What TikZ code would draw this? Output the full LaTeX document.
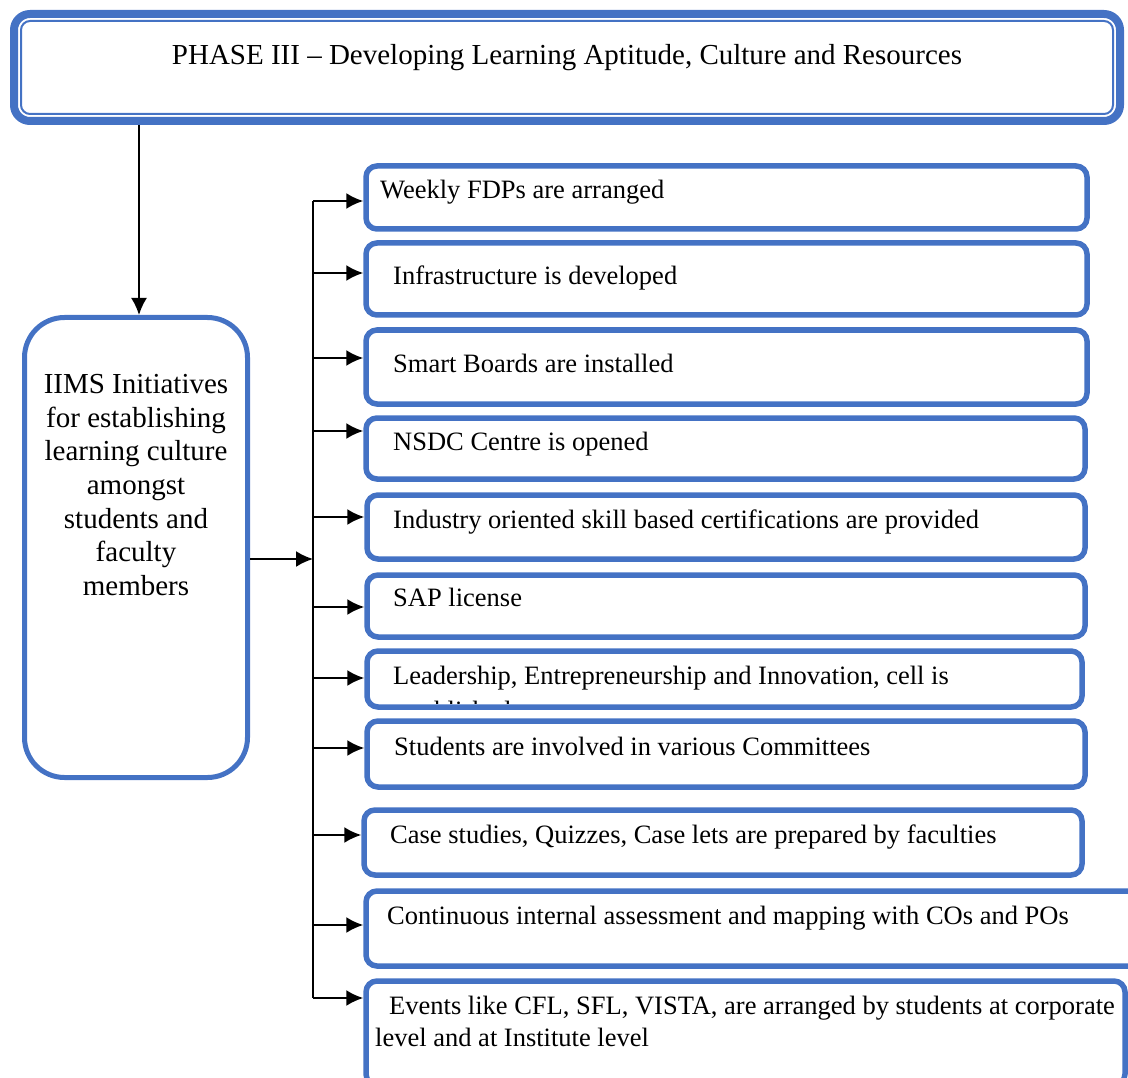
\documentclass[tikz,border=0pt]{standalone}
\usepackage{fontspec}
\setmainfont{Liberation Serif}
\usetikzlibrary{positioning,arrows.meta}
\definecolor{boxblue}{HTML}{4472C4}
\newcommand{\headfont}{\fontsize{29}{33.7}\selectfont}
\newcommand{\itemfont}{\fontsize{26.5}{32}\selectfont}

\begin{document}
\begin{tikzpicture}
                    [x=1pt, y=-1pt,
                    phasebox/.style={rectangle,
                        draw=boxblue, line width=8pt,
                        rounded corners=16pt},
                    initbox/.style={rectangle,
                        draw=boxblue, line width=5pt,
                        rounded corners=40pt},
                    itembox/.style={rectangle,
                        draw=boxblue, line width=5.5pt,
                        rounded corners=11pt, inner sep=0pt},
                    itemtext/.style={anchor=base west,
                        inner sep=0pt, font=\itemfont},
                    conn/.style={line width=2pt,
                        -{Latex[length=17pt,width=16pt]}}]

                    \useasboundingbox (0,0) rectangle (1128,1078);
                    \clip (0,0) rectangle (1128,1078);

                    % phase heading
                    \node[phasebox, minimum width=1106pt, minimum height=107pt]
                        (phase) at (567,67.5) {};
                    \draw[boxblue, line width=2pt, rounded corners=9pt]
                        ([shift={(11,11)}]phase.north west) rectangle
                        ([shift={(-11,-11)}]phase.south east);
                    \node[font=\headfont, anchor=base, inner sep=0pt]
                        (ptext) at (567,65)
                        {PHASE III – Developing Learning Aptitude, Culture and Resources};

                    % initiatives
                    \node[initbox, minimum width=223pt, minimum height=460pt]
                        (init) at (136,547.5) {};
                    \node[font=\headfont, align=center, anchor=north, inner sep=0pt]
                        (itext) at (136,374)
                        {IIMS Initiatives\\for establishing\\learning culture\\amongst\\students and\\faculty\\members};

                    % items
                    \node[itembox, minimum width=721pt, minimum height=63pt]
                        (b1) at (726.5,197.5) {};
                    \node[itembox, minimum width=721pt, minimum height=72pt]
                        (b2) at (726.5,279) {};
                    \node[itembox, minimum width=721pt, minimum height=74pt]
                        (b3) at (726.5,367) {};
                    \node[itembox, minimum width=719pt, minimum height=61pt]
                        (b4) at (725.5,448.5) {};
                    \node[itembox, minimum width=718pt, minimum height=64pt]
                        (b5) at (726,527) {};
                    \node[itembox, minimum width=718pt, minimum height=62pt]
                        (b6) at (726,606) {};
                    \node[itembox, minimum width=715pt, minimum height=56pt]
                        (b7) at (724.5,679) {};
                    \node[itembox, minimum width=718pt, minimum height=66pt]
                        (b8) at (726,754) {};
                    \node[itembox, minimum width=718pt, minimum height=65pt]
                        (b9) at (723,842.5) {};
                    \node[itembox, minimum width=774pt, minimum height=75pt]
                        (b10) at (753,928.5) {};
                    \node[itembox, minimum width=759pt, minimum height=104pt]
                        (b11) at (745.5,1033) {};

                    \node[itemtext] (t1) at (380,199) {Weekly FDPs are arranged};
                    \node[itemtext] (t2) at (393,285) {Infrastructure is developed};
                    \node[itemtext] (t3) at (393,372) {Smart Boards are installed};
                    \node[itemtext] (t4) at (393,450) {NSDC Centre is opened};
                    \node[itemtext] (t5) at (393,528)
                        {Industry oriented skill based certifications are provided};
                    \node[itemtext] (t6) at (393,606) {SAP license};
                    \begin{scope}
                        \clip ([shift={(6,6)}]b7.north west) rectangle
                            ([shift={(-6,-6)}]b7.south east);
                        \node[itemtext, anchor=north west, align=left]
                            (t7) at (393,666)
                            {Leadership, Entrepreneurship and Innovation, cell is\\[3pt]established};
                    \end{scope}
                    \node[itemtext] (t8) at (394,755)
                        {Students are involved in various Committees};
                    \node[itemtext] (t9) at (390,843)
                        {Case studies, Quizzes, Case lets are prepared by faculties};
                    \node[itemtext] (t10) at (387,924)
                        {Continuous internal assessment and mapping with COs and POs};
                    \node[itemtext, anchor=north west, align=left]
                        (t11) at (375,996)
                        {\hspace*{14pt}Events like CFL, SFL, VISTA, are arranged by students at corporate\\level and at Institute level};

                    % connectors
                    \coordinate (dn) at (139,0);
                    \draw[conn] (phase.south -| dn) -- (init.north -| dn);
                    \coordinate (jn) at (313,559);
                    \draw[conn] (init.east |- jn) -- (jn);

                    \coordinate (a1) at (313,201);
                    \coordinate (a2) at (313,273);
                    \coordinate (a3) at (313,358);
                    \coordinate (a4) at (313,431);
                    \coordinate (a5) at (313,517);
                    \coordinate (a6) at (313,607);
                    \coordinate (a7) at (313,678);
                    \coordinate (a8) at (313,748);
                    \coordinate (a9) at (313,835);
                    \coordinate (a10) at (313,925);
                    \coordinate (a11) at (313,998);
                    \draw[line width=2pt] (a1) -- (a11);
                    \draw[conn] (a1) -- (a1 -| b1.west);
                    \draw[conn] (a2) -- (a2 -| b2.west);
                    \draw[conn] (a3) -- (a3 -| b3.west);
                    \draw[conn] (a4) -- (a4 -| b4.west);
                    \draw[conn] (a5) -- (a5 -| b5.west);
                    \draw[conn] (a6) -- (a6 -| b6.west);
                    \draw[conn] (a7) -- (a7 -| b7.west);
                    \draw[conn] (a8) -- (a8 -| b8.west);
                    \draw[conn] (a9) -- (a9 -| b9.west);
                    \draw[conn] (a10) -- (a10 -| b10.west);
                    \draw[conn] (a11) -- (a11 -| b11.west);
                \end{tikzpicture}
\end{document}
